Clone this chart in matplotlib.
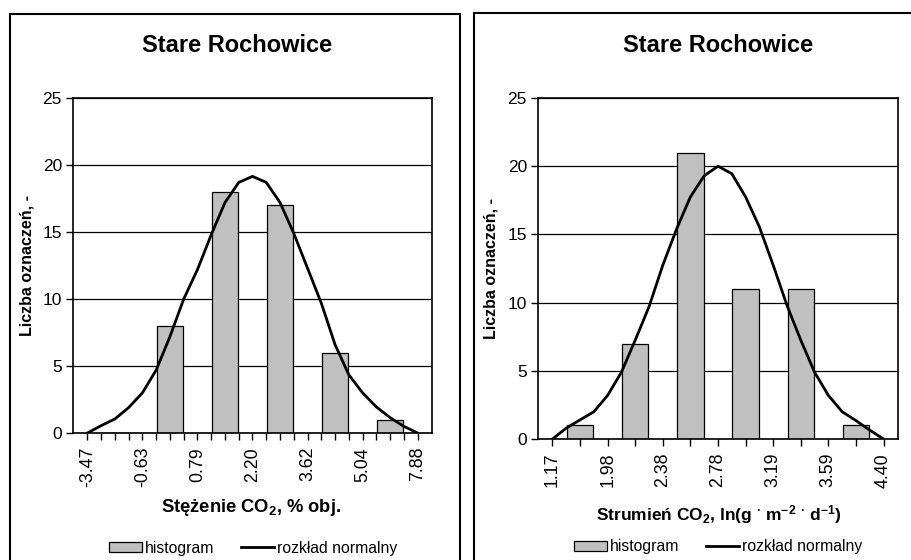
import matplotlib
matplotlib.use("Agg")
import matplotlib.pyplot as plt
from matplotlib.patches import Rectangle, Patch
from matplotlib.lines import Line2D
import numpy as np

plt.rcParams['font.family'] = ['Liberation Sans', 'DejaVu Sans']
plt.rcParams['mathtext.fontset'] = 'custom'
plt.rcParams['mathtext.rm'] = 'Liberation Sans'
plt.rcParams['mathtext.bf'] = 'Liberation Sans:bold'
plt.rcParams['mathtext.default'] = 'bf'

# dane - lewy wykres (stezenie CO2)
title = "Stare Rochowice"
left_labels = ["-3.47", "-0.63", "0.79", "2.20", "3.62", "5.04", "7.88"]
left_counts = [0, 8, 18, 17, 6, 1]
left_curve = [0, 0.55, 1.05, 1.9, 3.0, 4.7, 7.2, 10.0, 12.2, 14.8, 17.2, 18.7, 19.15,
              18.7, 17.2, 14.9, 12.3, 9.7, 6.6, 4.35, 3.0, 1.95, 1.15, 0.5, 0]
left_xlabel = "Stężenie CO$_2$, % obj."

# dane - prawy wykres (strumien CO2)
right_labels = ["1.17", "1.98", "2.38", "2.78", "3.19", "3.59", "4.40"]
right_counts = [1, 7, 21, 11, 11, 1]
right_curve = [0, 0.8, 1.4, 2.0, 3.2, 4.9, 7.25, 9.7, 12.75, 15.4, 17.75, 19.3, 20.0,
               19.45, 17.75, 15.55, 12.75, 9.8, 7.25, 4.9, 3.2, 2.0, 1.35, 0.65, 0]
right_xlabel = "Strumień CO$_2$, ln(g $^{·}$ m$^{-2}$ $^{·}$ d$^{-1}$)"

ylabel = "Liczba oznaczeń, -"
legend_names = ["histogram", "rozkład normalny"]


def draw_panel(ax, counts, curve, labels, tick_every):
    n = len(curve)
    x_line = np.arange(n)
    step = (n - 1) // (len(labels) - 1)
    bar_pos = step / 2 + step * np.arange(len(counts))
    ax.set_axisbelow(True)
    ax.bar(bar_pos, counts, width=1.92, color="#c0c0c0", edgecolor="black",
           linewidth=0.9, zorder=2)
    ax.plot(x_line, curve, color="black", linewidth=2.0, zorder=3)
    ax.set_xlim(-1.05, n - 1 + 1.05)
    ax.set_ylim(0, 25)
    ax.set_yticks(range(0, 26, 5))
    ax.yaxis.grid(True, color="black", linewidth=0.9)
    # etykiety co "step", kreski co "tick_every"
    ax.set_xticks(np.arange(0, n, step))
    ax.set_xticklabels(labels, rotation=90, fontsize=12.8)
    ax.set_xticks(np.arange(0, n, tick_every), minor=True)
    ax.tick_params(axis="x", which="both", length=5, width=1, direction="out", pad=5)
    ax.tick_params(axis="y", length=5, width=1, direction="out", labelsize=12.5, pad=3)
    for s in ax.spines.values():
        s.set_linewidth(1.2)
        s.set_color("black")


fig = plt.figure(figsize=(9.12, 5.6), dpi=100)

# ramki paneli
fig.patches.append(Rectangle((10 / 912, -0.05), 450 / 912, 1.05 - 14 / 560,
                             transform=fig.transFigure, fill=False,
                             edgecolor="black", linewidth=1.5))
fig.patches.append(Rectangle((474 / 912, -0.05), 0.5, 1.05 - 13 / 560,
                             transform=fig.transFigure, fill=False,
                             edgecolor="black", linewidth=1.5))

ax1 = fig.add_axes([73 / 912, 1 - 433 / 560, 359 / 912, 335 / 560])
draw_panel(ax1, left_counts, left_curve, left_labels, 1)

ax2 = fig.add_axes([538 / 912, 1 - 439 / 560, 360 / 912, 341 / 560])
draw_panel(ax2, right_counts, right_curve, right_labels, 2)

for cx in [237 / 912, 718 / 912]:
    fig.text(cx, 1 - 46 / 560, title, ha="center", va="center",
             fontsize=17, fontweight="bold")

fig.text(27 / 912, 1 - 265 / 560, ylabel, rotation=90, ha="center", va="center",
         fontsize=11.5, fontweight="bold")
fig.text(491 / 912, 1 - 268 / 560, ylabel, rotation=90, ha="center", va="center",
         fontsize=11.5, fontweight="bold")

fig.text(251 / 912, 1 - 507 / 560, left_xlabel, ha="center", va="center",
         fontsize=13.2, fontweight="bold")
fig.text(719 / 912, 1 - 515 / 560, right_xlabel, ha="center", va="center",
         fontsize=12.5, fontweight="bold")

handles = [Patch(facecolor="#c0c0c0", edgecolor="black", linewidth=0.9),
           Line2D([0], [0], color="black", linewidth=2.0)]
for cx, cy in [(253 / 912, 1 - 548 / 560), (718 / 912, 1 - 547 / 560)]:
    fig.legend(handles, legend_names, loc="center", bbox_to_anchor=(cx, cy),
               ncol=2, frameon=False, fontsize=11.3, handlelength=2.1,
               handleheight=0.55, handletextpad=0.2, columnspacing=1.7,
               borderpad=0, borderaxespad=0)

fig.savefig("out.png", dpi=100)
